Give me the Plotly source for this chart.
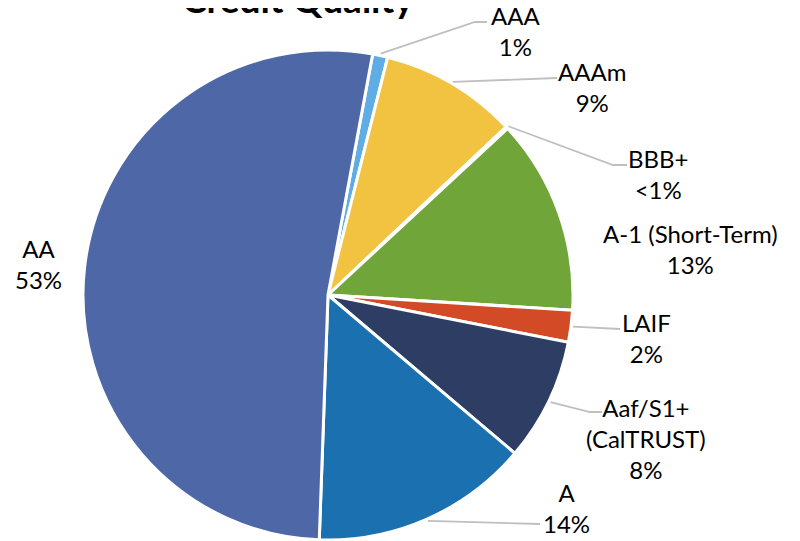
import math
import plotly.graph_objects as go

# ---- data ----
categories = ["AAA", "AAAm", "BBB+", "A-1 (Short-Term)", "LAIF", "Aaf/S1+ (CalTRUST)", "A", "AA"]
values = [1.0, 9.05, 0.15, 12.9, 2.1, 8.1, 14.4, 52.4]
label_texts = ["AAA<br>1%", "AAAm<br>9%", "BBB+<br><1%", "A-1 (Short-Term)<br>13%",
               "LAIF<br>2%", "Aaf/S1+<br>(CalTRUST)<br>8%", "A<br>14%", "AA<br>53%"]
colors = ["#5FADE4", "#F2C241", "#C9C9C9", "#70A53A", "#D24A26", "#2E3D63", "#1B70B0", "#4E67A6"]

# ---- layout / style ----
W, H = 800, 541
OFF = 8  # page body margin offset
CX, CY, R = 328, 295, 245
ROTATION = 10.5
FONT = "Lato"

# label placement (pixel centres) and leader-line elbows/ends (None = no line)
label_pos = [(515, 31), (592, 87), (658, 174), (690, 249), (646, 338), (646, 438), (566, 508), (38, 264)]
leader = [
    [(475, 22), (487, 22)],
    [(557, 78)],
    [(613, 165), (627, 165)],
    None,
    [(620, 329)],
    [(590, 412), (602, 412)],
    [(540, 524)],
    None,
]


def px(x):
    return (x - OFF) / W


def py(y):
    return 1 - (y - OFF) / H


fig = go.Figure()
fig.add_trace(go.Pie(
    labels=categories,
    values=values,
    sort=False,
    direction="clockwise",
    rotation=ROTATION,
    marker=dict(colors=colors, line=dict(color="white", width=3)),
    textinfo="none",
    hoverinfo="label+percent",
    showlegend=False,
    domain=dict(x=[px(CX - R), px(CX + R)], y=[py(CY + R), py(CY - R)]),
))

total = sum(values)
shapes = []
annotations = []
cum = 0.0
for i, v in enumerate(values):
    mid = ROTATION + (cum + v / 2) / total * 360
    cum += v
    a = math.radians(mid)
    sx = CX + (R + 2) * math.sin(a)
    sy = CY - (R + 2) * math.cos(a)
    if leader[i]:
        pts = [(sx, sy)] + leader[i]
        path = "M " + " L ".join(f"{px(x):.5f},{py(y):.5f}" for x, y in pts)
        shapes.append(dict(type="path", path=path, xref="paper", yref="paper",
                           line=dict(color="#BFBFBF", width=1.8)))
    lx, ly = label_pos[i]
    annotations.append(dict(text=label_texts[i], x=px(lx), y=py(ly), xref="paper", yref="paper",
                            xanchor="center", yanchor="middle", showarrow=False, align="center",
                            font=dict(family=FONT, size=24, color="#000000")))

annotations.append(dict(text="<b>Credit Quality</b>", x=px(298), y=py(23), xref="paper", yref="paper",
                        xanchor="center", yanchor="bottom", showarrow=False,
                        font=dict(family=FONT, size=37, color="#000000")))

fig.update_layout(
    width=W, height=H,
    margin=dict(l=0, r=0, t=0, b=0),
    paper_bgcolor="white", plot_bgcolor="white",
    shapes=shapes, annotations=annotations,
)
fig.write_html("out.html")
